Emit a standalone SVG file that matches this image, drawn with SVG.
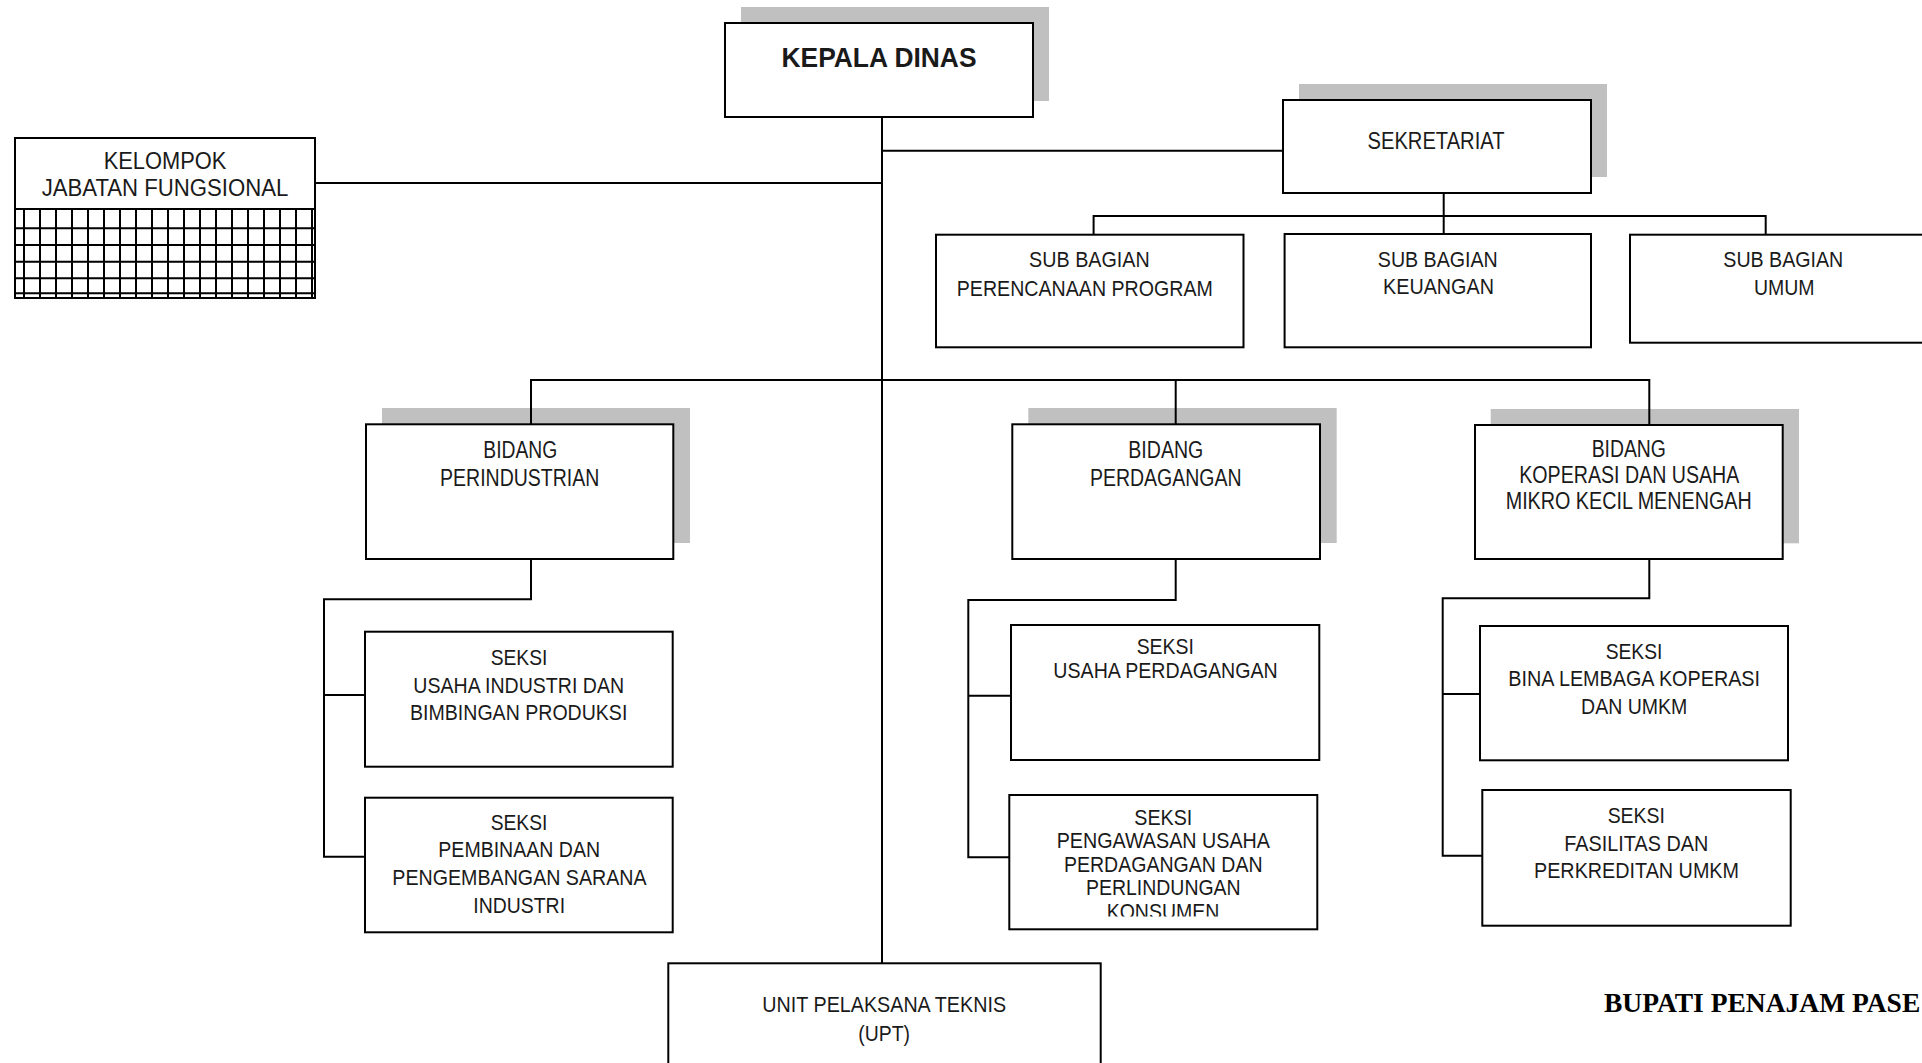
<svg xmlns="http://www.w3.org/2000/svg" width="1922" height="1063" viewBox="0 0 1922 1063">
<style>
.box{fill:#fff;stroke:#000;stroke-width:2}
.shadow{fill:#c0c0c0}
.conn{fill:none;stroke:#000;stroke-width:2}
.grid{fill:none;stroke:#000;stroke-width:2}
.t{font-family:"Liberation Sans",Arial,sans-serif;font-size:23px;fill:#1a1a1a;text-anchor:middle}
.s{font-size:22px}
.b{font-weight:bold;font-size:28px}
.serif{font-family:"Liberation Serif","Times New Roman",serif;font-weight:bold;font-size:27.5px;fill:#000}
</style>
<defs>
<clipPath id="clipKons"><rect x="1009" y="795" width="309" height="121.5"/></clipPath>
</defs>
<rect width="1922" height="1063" fill="#fff"/>

<g id="kepala-dinas">
<rect class="shadow" x="741" y="7" width="308" height="94"/>
<rect class="box" x="725" y="23" width="308" height="94"/>
<text class="t b" x="879" y="67" textLength="195" lengthAdjust="spacingAndGlyphs">KEPALA DINAS</text>
</g>

<g id="kelompok-jabatan-fungsional">
<rect class="box" x="15" y="138" width="300" height="160"/>
<path class="grid" d="M15 209H315M15 228.3H315M15 245H315M15 261.7H315M15 278.3H315M15 293.3H315M24 209V298M40 209V298M56 209V298M72 209V298M88 209V298M104 209V298M120 209V298M136 209V298M152 209V298M168 209V298M184 209V298M200 209V298M216 209V298M232 209V298M248 209V298M264 209V298M280 209V298M296 209V298M312 209V298"/>
<text class="t" x="165" y="169" textLength="122.7" lengthAdjust="spacingAndGlyphs">KELOMPOK</text>
<text class="t" x="165" y="196" textLength="246.7" lengthAdjust="spacingAndGlyphs">JABATAN FUNGSIONAL</text>
</g>

<g id="sekretariat">
<rect class="shadow" x="1299" y="84" width="308" height="93"/>
<rect class="box" x="1283" y="100" width="308" height="93"/>
<text class="t" x="1436" y="149.3" textLength="137" lengthAdjust="spacingAndGlyphs">SEKRETARIAT</text>
</g>

<g id="sub-bagian-perencanaan">
<rect class="box" x="936" y="234.7" width="307.5" height="112.6"/>
<text class="t s" x="1089.4" y="267.3" textLength="120.6" lengthAdjust="spacingAndGlyphs">SUB BAGIAN</text>
<text class="t s" x="1084.8" y="295.7" textLength="256" lengthAdjust="spacingAndGlyphs">PERENCANAAN PROGRAM</text>
</g>

<g id="sub-bagian-keuangan">
<rect class="box" x="1284.6" y="234" width="306.4" height="113.3"/>
<text class="t s" x="1437.8" y="267" textLength="120" lengthAdjust="spacingAndGlyphs">SUB BAGIAN</text>
<text class="t s" x="1438.5" y="294" textLength="110.8" lengthAdjust="spacingAndGlyphs">KEUANGAN</text>
</g>

<g id="sub-bagian-umum">
<rect class="box" x="1630" y="234.7" width="307" height="108"/>
<text class="t s" x="1783.3" y="267" textLength="120" lengthAdjust="spacingAndGlyphs">SUB BAGIAN</text>
<text class="t s" x="1784.3" y="295" textLength="60.6" lengthAdjust="spacingAndGlyphs">UMUM</text>
</g>

<g id="bidang-perindustrian">
<rect class="shadow" x="382" y="408" width="308" height="135"/>
<rect class="box" x="366" y="424.3" width="307.3" height="134.7"/>
<text class="t" x="520.3" y="458.3" textLength="74" lengthAdjust="spacingAndGlyphs">BIDANG</text>
<text class="t" x="519.7" y="486" textLength="159.3" lengthAdjust="spacingAndGlyphs">PERINDUSTRIAN</text>
</g>

<g id="bidang-perdagangan">
<rect class="shadow" x="1028.3" y="408" width="308.4" height="135"/>
<rect class="box" x="1012.3" y="424.3" width="307.7" height="134.7"/>
<text class="t" x="1165.8" y="458" textLength="75" lengthAdjust="spacingAndGlyphs">BIDANG</text>
<text class="t" x="1165.8" y="486" textLength="151.7" lengthAdjust="spacingAndGlyphs">PERDAGANGAN</text>
</g>

<g id="bidang-koperasi-umkm">
<rect class="shadow" x="1490.7" y="409" width="308.3" height="134.3"/>
<rect class="box" x="1475" y="425" width="307.7" height="134"/>
<text class="t" x="1628.8" y="457.3" textLength="74.3" lengthAdjust="spacingAndGlyphs">BIDANG</text>
<text class="t" x="1629.3" y="483.3" textLength="220" lengthAdjust="spacingAndGlyphs">KOPERASI DAN USAHA</text>
<text class="t" x="1628.7" y="509.3" textLength="246" lengthAdjust="spacingAndGlyphs">MIKRO KECIL MENENGAH</text>
</g>

<g id="seksi-usaha-industri">
<rect class="box" x="365" y="631.7" width="307.7" height="135"/>
<text class="t s" x="519" y="665" textLength="56.7" lengthAdjust="spacingAndGlyphs">SEKSI</text>
<text class="t s" x="518.7" y="692.7" textLength="210.7" lengthAdjust="spacingAndGlyphs">USAHA INDUSTRI DAN</text>
<text class="t s" x="518.7" y="720" textLength="217.3" lengthAdjust="spacingAndGlyphs">BIMBINGAN PRODUKSI</text>
</g>

<g id="seksi-pembinaan-sarana">
<rect class="box" x="365" y="797.7" width="307.7" height="134.6"/>
<text class="t s" x="519" y="830" textLength="56.7" lengthAdjust="spacingAndGlyphs">SEKSI</text>
<text class="t s" x="519.2" y="857.3" textLength="161.7" lengthAdjust="spacingAndGlyphs">PEMBINAAN DAN</text>
<text class="t s" x="519.5" y="885" textLength="254.3" lengthAdjust="spacingAndGlyphs">PENGEMBANGAN SARANA</text>
<text class="t s" x="519.2" y="912.7" textLength="91.7" lengthAdjust="spacingAndGlyphs">INDUSTRI</text>
</g>

<g id="seksi-usaha-perdagangan">
<rect class="box" x="1011" y="625" width="308.3" height="135"/>
<text class="t s" x="1165.3" y="654" textLength="57.3" lengthAdjust="spacingAndGlyphs">SEKSI</text>
<text class="t s" x="1165.5" y="678.3" textLength="224.3" lengthAdjust="spacingAndGlyphs">USAHA PERDAGANGAN</text>
</g>

<g id="seksi-pengawasan-perdagangan">
<rect class="box" x="1009.3" y="795" width="308" height="134.3"/>
<g clip-path="url(#clipKons)">
<text class="t s" x="1163.3" y="825" textLength="58" lengthAdjust="spacingAndGlyphs">SEKSI</text>
<text class="t s" x="1163.3" y="848.3" textLength="213.3" lengthAdjust="spacingAndGlyphs">PENGAWASAN USAHA</text>
<text class="t s" x="1163.3" y="872.3" textLength="198.7" lengthAdjust="spacingAndGlyphs">PERDAGANGAN DAN</text>
<text class="t s" x="1163.3" y="895" textLength="154.7" lengthAdjust="spacingAndGlyphs">PERLINDUNGAN</text>
<text class="t s" x="1163" y="918.5" textLength="112.7" lengthAdjust="spacingAndGlyphs">KONSUMEN</text>
</g>
</g>

<g id="seksi-bina-lembaga">
<rect class="box" x="1480" y="626" width="308" height="134.3"/>
<text class="t s" x="1634" y="659" textLength="56.7" lengthAdjust="spacingAndGlyphs">SEKSI</text>
<text class="t s" x="1634.2" y="686" textLength="251.7" lengthAdjust="spacingAndGlyphs">BINA LEMBAGA KOPERASI</text>
<text class="t s" x="1634.2" y="714" textLength="106.3" lengthAdjust="spacingAndGlyphs">DAN UMKM</text>
</g>

<g id="seksi-fasilitas-perkreditan">
<rect class="box" x="1482.3" y="790" width="308.4" height="135.7"/>
<text class="t s" x="1636.3" y="822.7" textLength="57.3" lengthAdjust="spacingAndGlyphs">SEKSI</text>
<text class="t s" x="1636.3" y="851" textLength="144" lengthAdjust="spacingAndGlyphs">FASILITAS DAN</text>
<text class="t s" x="1636.5" y="878.3" textLength="205" lengthAdjust="spacingAndGlyphs">PERKREDITAN UMKM</text>
</g>

<g id="upt">
<rect class="box" x="668.3" y="963.3" width="432.4" height="130"/>
<text class="t s" x="884.2" y="1012.3" textLength="243.7" lengthAdjust="spacingAndGlyphs">UNIT PELAKSANA TEKNIS</text>
<text class="t s" x="884.2" y="1041" textLength="51.7" lengthAdjust="spacingAndGlyphs">(UPT)</text>
</g>

<g id="bupati-label">
<text class="serif" x="1604" y="1011.7">BUPATI PENAJAM PASE</text>
</g>

<g id="connectors">
<path class="conn" d="M882 117V963.3"/>
<path class="conn" d="M315 183H882"/>
<path class="conn" d="M882 150.7H1283"/>
<path class="conn" d="M1443.7 193.3V234M1093.6 234.7V216H1765.7V234.7"/>
<path class="conn" d="M531 424.3V380H1649.3V425M1175.7 380V424.3"/>
<path class="conn" d="M531 559V599.3H324V856.7H365M324 695H365"/>
<path class="conn" d="M1175.7 559V600H968.3V857.3H1009.3M968.3 695.7H1011"/>
<path class="conn" d="M1649.3 559V598.3H1442.7V855.7H1482.3M1442.7 694H1480"/>
</g>
</svg>
